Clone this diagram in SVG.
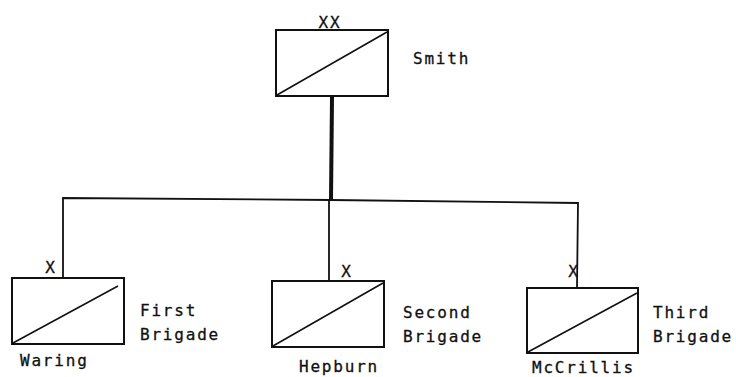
<svg xmlns="http://www.w3.org/2000/svg" width="736" height="377" viewBox="0 0 736 377">
<style>
.box{fill:none;stroke:#111;stroke-width:2}
.diag{stroke:#111;stroke-width:1.6;fill:none}
.ln{stroke:#111;stroke-width:1.8;fill:none}
.thick{stroke:#111;stroke-width:4;fill:none}
text{font-family:"DejaVu Sans Mono","Liberation Mono",monospace;font-size:16px;fill:#111;stroke:#111;stroke-width:0.3;letter-spacing:1.8px}
.mid{text-anchor:middle}
</style>
<rect width="736" height="377" fill="#fff"/>
<g id="connectors">
<line class="thick" x1="332" y1="97" x2="331" y2="200"/>
<polyline class="ln" points="63,278 63,198 331,200 578,203 577,288"/>
<line class="ln" x1="329" y1="200" x2="329" y2="281"/>
</g>
<g id="smith">
<text class="mid" x="330" y="28">XX</text>
<rect class="box" x="276" y="30" width="112" height="66"/>
<line class="diag" x1="277" y1="95" x2="387" y2="32"/>
<text x="413" y="64">Smith</text>
</g>
<g id="first">
<text class="mid" x="51" y="273">X</text>
<rect class="box" x="12" y="278" width="112" height="66"/>
<line class="diag" x1="13" y1="343" x2="118" y2="286"/>
<text x="140" y="316">First</text>
<text x="140" y="340">Brigade</text>
<text x="20" y="366">Waring</text>
</g>
<g id="second">
<text class="mid" x="347" y="277">X</text>
<rect class="box" x="272" y="281" width="112" height="66"/>
<line class="diag" x1="273" y1="346" x2="383" y2="283"/>
<text x="403" y="318">Second</text>
<text x="403" y="342">Brigade</text>
<text x="299" y="372">Hepburn</text>
</g>
<g id="third">
<text class="mid" x="574" y="277">X</text>
<rect class="box" x="527" y="288" width="111" height="65"/>
<line class="diag" x1="528" y1="352" x2="637" y2="293"/>
<text x="653" y="318">Third</text>
<text x="653" y="342">Brigade</text>
<text x="532" y="373">McCrillis</text>
</g>
</svg>
